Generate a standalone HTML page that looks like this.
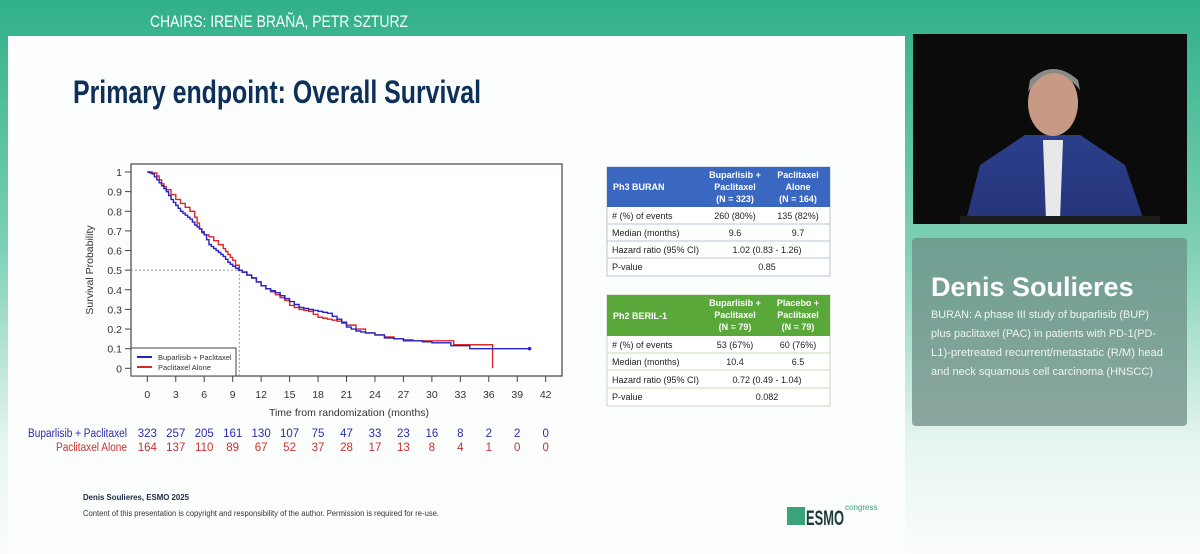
<!DOCTYPE html>
<html><head><meta charset="utf-8">
<style>
html,body{margin:0;padding:0;width:1200px;height:554px;overflow:hidden;background:#fff}
svg{display:block}
text{font-family:"Liberation Sans",sans-serif}
</style></head>
<body>
<svg id="s" width="1200" height="554" viewBox="0 0 1200 554" xmlns="http://www.w3.org/2000/svg">
<defs>
<linearGradient id="bg" x1="0" y1="0" x2="0" y2="1">
<stop offset="0" stop-color="#2fb088"/><stop offset="0.45" stop-color="#7fd0b6"/><stop offset="0.8" stop-color="#e6f5f0"/><stop offset="1" stop-color="#fbfdfc"/>
</linearGradient>
<linearGradient id="panel" x1="0" y1="0" x2="0" y2="1">
<stop offset="0" stop-color="#6f9f92"/><stop offset="1" stop-color="#8aa69f"/>
</linearGradient>
<linearGradient id="suit" x1="0" y1="0" x2="0" y2="1">
<stop offset="0" stop-color="#2c3f8a"/><stop offset="1" stop-color="#24347a"/>
</linearGradient>
</defs>
<rect x="0" y="0" width="1200" height="554" fill="url(#bg)"/>
<text x="279" y="27" text-anchor="middle" font-size="17" fill="#fff" textLength="258" lengthAdjust="spacingAndGlyphs">CHAIRS: IRENE BRAÑA, PETR SZTURZ</text>
<rect x="8" y="36" width="897" height="518" fill="#fcfdfd"/>
<text x="73" y="103" font-size="32" font-weight="bold" fill="#0e2f58" textLength="408" lengthAdjust="spacingAndGlyphs">Primary endpoint: Overall Survival</text>

<g id="chart">
<rect x="131" y="164" width="431" height="212" fill="#fff" stroke="#444" stroke-width="1.2"/>
<g id="yaxis"></g>
<g id="xaxis"></g>
<text transform="translate(93,270) rotate(-90)" text-anchor="middle" font-size="10.5" fill="#333">Survival Probability</text>
<text x="349" y="416" text-anchor="middle" font-size="10.5" fill="#333">Time from randomization (months)</text>
<g id="medians"></g>
<g id="curves"></g>
<g>
<rect x="131" y="348" width="105" height="28" fill="#fff" stroke="#444" stroke-width="1"/>
<line x1="137" y1="357" x2="152" y2="357" stroke="#2323c8" stroke-width="2"/>
<text x="158" y="360" font-size="7.5" fill="#333">Buparlisib + Paclitaxel</text>
<line x1="137" y1="367" x2="152" y2="367" stroke="#d82a2a" stroke-width="2"/>
<text x="158" y="370" font-size="7.5" fill="#333">Paclitaxel Alone</text>
</g>
<g id="risk">
<text x="28" y="437" font-size="11.5" fill="#2b2bb0" textLength="99" lengthAdjust="spacingAndGlyphs">Buparlisib + Paclitaxel</text>
<text x="56" y="451" font-size="11.5" fill="#c83232" textLength="71" lengthAdjust="spacingAndGlyphs">Paclitaxel Alone</text>
</g>
</g>

<g font-size="9" fill="#222">
<rect x="607" y="167" width="223" height="109" fill="#fff" stroke="#b7c4d8"/>
<rect x="607" y="167" width="223" height="40" fill="#3a67c0"/>
<text x="613" y="190" font-weight="bold" fill="#fff">Ph3 BURAN</text>
<text x="735" y="178" text-anchor="middle" font-weight="bold" fill="#fff">Buparlisib +</text>
<text x="735" y="190" text-anchor="middle" font-weight="bold" fill="#fff">Paclitaxel</text>
<text x="735" y="202" text-anchor="middle" font-weight="bold" fill="#fff">(N = 323)</text>
<text x="798" y="178" text-anchor="middle" font-weight="bold" fill="#fff">Paclitaxel</text>
<text x="798" y="190" text-anchor="middle" font-weight="bold" fill="#fff">Alone</text>
<text x="798" y="202" text-anchor="middle" font-weight="bold" fill="#fff">(N = 164)</text>
<line x1="607" y1="224" x2="830" y2="224" stroke="#b7c4d8"/>
<line x1="607" y1="241" x2="830" y2="241" stroke="#b7c4d8"/>
<line x1="607" y1="258" x2="830" y2="258" stroke="#b7c4d8"/>
<text x="612" y="219">#  (%) of events</text><text x="735" y="219" text-anchor="middle">260 (80%)</text><text x="798" y="219" text-anchor="middle">135 (82%)</text>
<text x="612" y="236">Median (months)</text><text x="735" y="236" text-anchor="middle">9.6</text><text x="798" y="236" text-anchor="middle">9.7</text>
<text x="612" y="253">Hazard ratio (95% CI)</text><text x="767" y="253" text-anchor="middle">1.02  (0.83 - 1.26)</text>
<text x="612" y="270">P-value</text><text x="767" y="270" text-anchor="middle">0.85</text>
</g>
<g font-size="9" fill="#222">
<rect x="607" y="295" width="223" height="111" fill="#fff" stroke="#c8d8b8"/>
<rect x="607" y="295" width="223" height="41" fill="#5aa83a"/>
<text x="613" y="319" font-weight="bold" fill="#fff">Ph2 BERIL-1</text>
<text x="735" y="306" text-anchor="middle" font-weight="bold" fill="#fff">Buparlisib +</text>
<text x="735" y="318" text-anchor="middle" font-weight="bold" fill="#fff">Paclitaxel</text>
<text x="735" y="330" text-anchor="middle" font-weight="bold" fill="#fff">(N = 79)</text>
<text x="798" y="306" text-anchor="middle" font-weight="bold" fill="#fff">Placebo +</text>
<text x="798" y="318" text-anchor="middle" font-weight="bold" fill="#fff">Paclitaxel</text>
<text x="798" y="330" text-anchor="middle" font-weight="bold" fill="#fff">(N = 79)</text>
<line x1="607" y1="353" x2="830" y2="353" stroke="#c8d8b8"/>
<line x1="607" y1="370" x2="830" y2="370" stroke="#c8d8b8"/>
<line x1="607" y1="388" x2="830" y2="388" stroke="#c8d8b8"/>
<text x="612" y="348">#  (%) of events</text><text x="735" y="348" text-anchor="middle">53 (67%)</text><text x="798" y="348" text-anchor="middle">60 (76%)</text>
<text x="612" y="365">Median (months)</text><text x="735" y="365" text-anchor="middle">10.4</text><text x="798" y="365" text-anchor="middle">6.5</text>
<text x="612" y="383">Hazard ratio (95% CI)</text><text x="767" y="383" text-anchor="middle">0.72  (0.49 - 1.04)</text>
<text x="612" y="400">P-value</text><text x="767" y="400" text-anchor="middle">0.082</text>
</g>

<text x="83" y="500" font-size="8.5" font-weight="bold" fill="#1a2a44" textLength="106" lengthAdjust="spacingAndGlyphs">Denis Soulieres, ESMO 2025</text>
<text x="83" y="516" font-size="8" fill="#333" textLength="356" lengthAdjust="spacingAndGlyphs">Content of this presentation is copyright and responsibility of the author. Permission is required for re-use.</text>
<g>
<rect x="787" y="507" width="18" height="18" fill="#3aa37a"/>
<text x="806" y="525" font-size="21" font-weight="bold" fill="#1d3a3a" textLength="38" lengthAdjust="spacingAndGlyphs">ESMO</text>
<text x="845" y="510" font-size="8" fill="#3aa37a">congress</text>
</g>

<g>
<rect x="913" y="34" width="274" height="190" fill="#0b0b0b"/>
<path d="M965 224 L980 165 L1025 135 L1080 135 L1125 165 L1145 224 Z" fill="url(#suit)"/>
<path d="M1043 140 L1063 140 L1060 220 L1046 220 Z" fill="#e8e8ea"/>
<ellipse cx="1053" cy="103" rx="25" ry="33" fill="#c79a86"/>
<path d="M1028 92 Q1052 55 1080 90 L1078 80 Q1053 58 1030 80 Z" fill="#8a8a86"/>
<rect x="960" y="216" width="200" height="8" fill="#1c1c1c"/>
</g>
<rect x="912" y="238" width="275" height="188" rx="4" fill="url(#panel)"/>
<text x="931" y="296" font-size="27" font-weight="bold" fill="#fff">Denis Soulieres</text>
<g font-size="11" fill="#eef4f2">
<text x="931" y="318" textLength="218" lengthAdjust="spacingAndGlyphs">BURAN: A phase III study of buparlisib (BUP)</text>
<text x="931" y="337" textLength="225" lengthAdjust="spacingAndGlyphs">plus paclitaxel (PAC) in patients with PD-1(PD-</text>
<text x="931" y="356" textLength="232" lengthAdjust="spacingAndGlyphs">L1)-pretreated recurrent/metastatic (R/M) head</text>
<text x="931" y="375" textLength="222" lengthAdjust="spacingAndGlyphs">and neck squamous cell carcinoma (HNSCC)</text>
</g>
</svg>
<script>
const xTicks=[0,3,6,9,12,15,18,21,24,27,30,33,36,39,42];
const yTicks=[0,0.1,0.2,0.3,0.4,0.5,0.6,0.7,0.8,0.9,1];
const yTickLabels=["0","0.1","0.2","0.3","0.4","0.5","0.6","0.7","0.8","0.9","1"];
const riskBup=[323,257,205,161,130,107,75,47,33,23,16,8,2,2,0];
const riskPac=[164,137,110,89,67,52,37,28,17,13,8,4,1,0,0];
const bupTime=[0,0.25,0.5,0.75,1,1.25,1.5,1.75,2,2.25,2.5,2.75,3,3.25,3.5,3.75,4,4.25,4.5,4.75,5,5.25,5.5,5.75,6,6.25,6.5,6.75,7,7.25,7.5,7.75,8,8.25,8.5,8.75,9,9.3,9.6,10,10.5,11,11.5,12,12.5,13,13.5,14,14.5,15,15.5,16,16.5,17,17.5,18,18.5,19,19.5,20,20.5,21,21.5,22,22.5,23,24,25,26,27,28,29,30,31,32,33,34,36,40.3];
const bupSurv=[1,0.995,0.99,0.975,0.96,0.945,0.93,0.915,0.9,0.88,0.86,0.845,0.83,0.815,0.8,0.79,0.78,0.77,0.76,0.745,0.73,0.72,0.71,0.695,0.68,0.655,0.63,0.62,0.61,0.6,0.59,0.58,0.57,0.555,0.54,0.53,0.52,0.51,0.5,0.49,0.475,0.46,0.44,0.42,0.405,0.395,0.385,0.37,0.355,0.34,0.325,0.31,0.305,0.3,0.295,0.29,0.285,0.28,0.265,0.25,0.235,0.21,0.2,0.19,0.185,0.18,0.17,0.155,0.15,0.14,0.14,0.135,0.13,0.13,0.115,0.115,0.1,0.1,0.1];
const pacTime=[0,0.5,1,1.25,1.5,1.75,2,2.5,3,3.5,4,4.5,5,5.25,5.5,5.75,6,6.5,7,7.5,8,8.25,8.5,8.75,9,9.3,9.7,10,10.5,11,11.5,12,12.5,13,13.5,14,14.5,15,15.5,16,16.5,17,17.5,18,18.5,19,19.5,20,20.5,21,22,23,24,25,26,27,28,30,32.3,34,36.4];
const pacSurv=[1,0.995,0.98,0.96,0.94,0.925,0.91,0.885,0.86,0.84,0.82,0.8,0.77,0.74,0.71,0.69,0.68,0.67,0.65,0.63,0.61,0.595,0.58,0.565,0.55,0.525,0.5,0.49,0.475,0.46,0.44,0.42,0.405,0.39,0.375,0.36,0.345,0.32,0.31,0.3,0.295,0.29,0.275,0.26,0.255,0.25,0.245,0.24,0.23,0.22,0.2,0.18,0.17,0.16,0.15,0.145,0.14,0.14,0.12,0.12,0.12];
const medians=[9.6,9.7];

const NS='http://www.w3.org/2000/svg';
const X=t=>147.3+t*(545.7-147.3)/42;
const Y=p=>368.3-p*(368.3-172);
function mk(tag,attrs,parent,txt){const e=document.createElementNS(NS,tag);for(const k in attrs)e.setAttribute(k,attrs[k]);if(txt!==undefined)e.textContent=txt;parent.appendChild(e);return e;}
const ya=document.getElementById('yaxis'),xa=document.getElementById('xaxis'),rk=document.getElementById('risk');
yTicks.forEach((v,i)=>{
  const l=mk('line',{x1:125,x2:131,y1:Y(v),y2:Y(v),stroke:'#444'},ya);
  
  
  const t=mk('text',{x:122,y:Y(v)+4,'text-anchor':'end','font-size':'10.5',fill:'#333'},ya,yTickLabels[i]);
  
  
});
xTicks.forEach((v,i)=>{
  const l=mk('line',{x1:X(v),x2:X(v),y1:376,y2:382,stroke:'#444'},xa);
  
  
  const t=mk('text',{x:X(v),y:398,'text-anchor':'middle','font-size':'10.5',fill:'#333'},xa,String(v));
  
  
  const a=mk('text',{x:X(v),y:437,'text-anchor':'middle','font-size':'11.5',fill:'#2b2bb0'},rk,String(riskBup[i]));
  
  
  const b=mk('text',{x:X(v),y:451,'text-anchor':'middle','font-size':'11.5',fill:'#c83232'},rk,String(riskPac[i]));
  
  
});
const md=document.getElementById('medians');
const mx=Math.max(...medians);
const g1=mk('path',{d:`M131 ${Y(0.5)} H${X(mx)} V376`,fill:'none',stroke:'#999','stroke-dasharray':'2 2','stroke-width':1},md);


function step(ts,ss){let d=`M${X(ts[0])} ${Y(ss[0])}`;for(let i=1;i<ts.length;i++){d+=` H${X(ts[i])} V${Y(ss[i])}`;}return d;}
const cv=document.getElementById('curves');
const pr=mk('path',{d:step(pacTime,pacSurv)+` V${Y(0)}`,fill:'none',stroke:'#d82a2a','stroke-width':1.4},cv);


const pb=mk('path',{d:step(bupTime,bupSurv),fill:'none',stroke:'#2323c8','stroke-width':1.4},cv);


const end=mk('circle',{cx:X(bupTime[bupTime.length-1]),cy:Y(bupSurv[bupSurv.length-1]),r:1.8,fill:'#2323c8'},cv);


</script>
</body></html>
